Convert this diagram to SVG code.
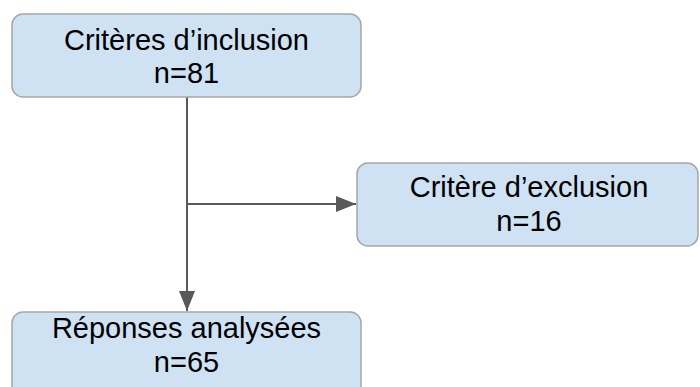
<svg xmlns="http://www.w3.org/2000/svg" width="700" height="387" viewBox="0 0 700 387">
<style>
.box{fill:#cfe2f3;stroke:#a6a6a6;stroke-width:1.5}
.t{font-family:"Liberation Sans",Arial,sans-serif;font-size:29px;fill:#000;text-anchor:middle}
.c{stroke:#595959;stroke-width:2;fill:none}
</style>
<defs>
<marker id="ah" markerUnits="userSpaceOnUse" markerWidth="20" markerHeight="16" refX="20" refY="8" orient="auto">
<path d="M0,0 L20,8 L0,16 Z" fill="#595959"/>
</marker>
</defs>
<g id="connectors">
<path class="c" d="M187,97 L187,311" marker-end="url(#ah)"/>
<path class="c" d="M187,204 L356,204" marker-end="url(#ah)"/>
</g>
<g id="n1">
<rect class="box" x="12" y="14" width="349" height="83" rx="11"/>
<text class="t" x="186.5" y="50">Critères d’inclusion</text>
<text class="t" x="186.5" y="83">n=81</text>
</g>
<g id="n2">
<rect class="box" x="357" y="163" width="341" height="83" rx="11"/>
<text class="t" x="529" y="197">Critère d’exclusion</text>
<text class="t" x="529" y="231">n=16</text>
</g>
<g id="n3">
<rect class="box" x="12" y="312" width="349" height="90" rx="11"/>
<text class="t" x="186.5" y="338">Réponses analysées</text>
<text class="t" x="186.5" y="372">n=65</text>
</g>
</svg>
